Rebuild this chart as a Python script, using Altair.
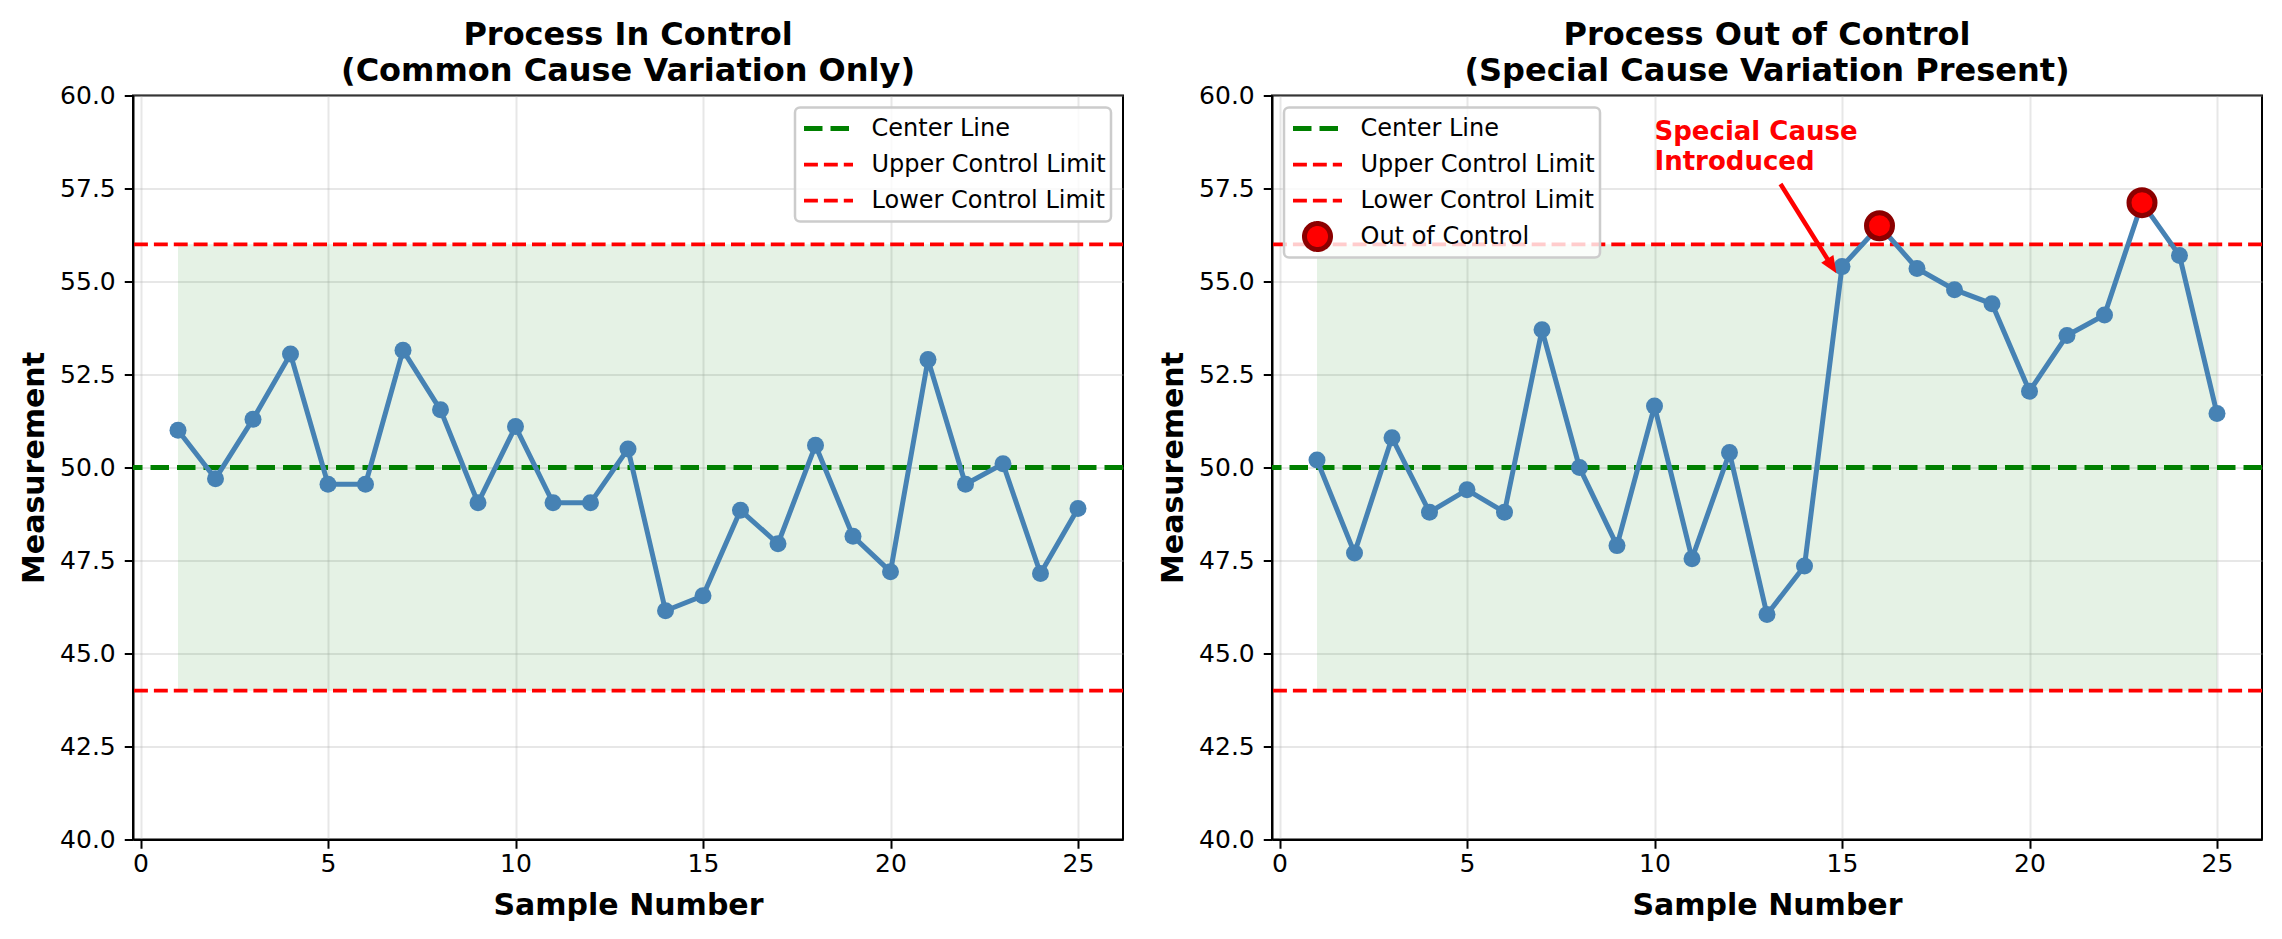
import altair as alt
import pandas as pd

FONT = "DejaVu Sans"

# ---------------- data ----------------
samples = list(range(1, 26))
in_control_values = [51.0, 49.7, 51.3, 53.05, 49.55, 49.55, 53.15, 51.55, 49.05, 51.1,
                     49.05, 49.05, 50.5, 46.15, 46.55, 48.85, 47.95, 50.6, 48.15, 47.2,
                     52.9, 49.55, 50.1, 47.15, 48.9]
out_control_values = [50.2, 47.7, 50.8, 48.8, 49.4, 48.8, 53.7, 50.0, 47.9, 51.65,
                      47.55, 50.4, 46.05, 47.35, 55.4, 56.5, 55.35, 54.78, 54.4, 52.05,
                      53.55, 54.1, 57.12, 55.7, 51.45]

limit_names = ["Center Line", "Upper Control Limit", "Lower Control Limit"]
limit_values = [50.0, 56.0, 44.0]
ooc_name = "Out of Control"

x_ticks = [0, 5, 10, 15, 20, 25]
y_ticks = [40.0, 42.5, 45.0, 47.5, 50.0, 52.5, 55.0, 57.5, 60.0]
shade_x = [1, 25]

titles = [["Process In Control", "(Common Cause Variation Only)"],
          ["Process Out of Control", "(Special Cause Variation Present)"]]

note_text = ["Special Cause\nIntroduced"]
note_x = [10.0]
note_y = [58.0]
arrow_tail = [13.36, 57.62]
arrow_tip = [14.85, 55.22]

# ---------------- styles ----------------
GREEN = "#008000"
RED = "#ff0000"
DARKRED = "#8b0000"
BLUE = "#4682b4"
DASH_CL = [18.5, 8]
DASH_LIM = [13.9, 6]

xscale = alt.Scale(domain=[-0.2, 26.2], nice=False, zero=False)
yscale = alt.Scale(domain=[40, 60], nice=False, zero=False)
xaxis = alt.Axis(values=x_ticks, format="d", title="Sample Number")
yaxis = alt.Axis(values=y_ticks, format=".1f", title="Measurement")

IS_OOC = "(datum && datum.value === 'Out of Control')"
IS_CL = "(datum && datum.value === 'Center Line')"


def make_legend(orient):
    return alt.Legend(
        title=None, orient=orient, offset=12, labelLimit=600, clipHeight=32,
        symbolType=alt.ExprRef(f"{IS_OOC} ? 'circle' : 'stroke'"),
        symbolSize=alt.ExprRef(f"{IS_OOC} ? 676 : 2401"),
        symbolStrokeWidth=alt.ExprRef(f"{IS_CL} ? 5 : ({IS_OOC} ? 5 : 3.75)"),
        symbolFillColor=alt.ExprRef(f"{IS_OOC} ? '#ff0000' : 'transparent'"),
        symbolOpacity=1,
    )


def panel(values, title, with_ooc, orient):
    df = pd.DataFrame({"sample": samples, "value": values})
    lim = pd.DataFrame({"name": limit_names, "y": limit_values})
    shade = pd.DataFrame({"x": [shade_x[0]], "x2": [shade_x[1]],
                          "y": [limit_values[2]], "y2": [limit_values[1]]})
    domain = limit_names + ([ooc_name] if with_ooc else [])
    crange = [GREEN, RED, RED, DARKRED][:len(domain)]
    drange = [DASH_CL, DASH_LIM, DASH_LIM, [1, 0]][:len(domain)]
    legend = make_legend(orient)
    color = alt.Color("name:N", scale=alt.Scale(domain=domain, range=crange), legend=legend)
    dash = alt.StrokeDash("name:N", scale=alt.Scale(domain=domain, range=drange), legend=legend)

    shade_layer = alt.Chart(shade).mark_rect(color=GREEN, opacity=0.1).encode(
        x=alt.X("x:Q", scale=xscale, axis=xaxis), x2="x2:Q",
        y=alt.Y("y:Q", scale=yscale, axis=yaxis), y2="y2:Q")

    cl_layer = alt.Chart(lim).transform_filter("datum.name === 'Center Line'").mark_rule(
        strokeWidth=5).encode(y=alt.Y("y:Q", scale=yscale, axis=yaxis), color=color, strokeDash=dash)
    lim_layer = alt.Chart(lim).transform_filter("datum.name !== 'Center Line'").mark_rule(
        strokeWidth=3.75).encode(y=alt.Y("y:Q", scale=yscale, axis=yaxis), color=color, strokeDash=dash)

    enc = dict(x=alt.X("sample:Q", scale=xscale, axis=xaxis),
               y=alt.Y("value:Q", scale=yscale, axis=yaxis))
    line_layer = alt.Chart(df).mark_line(color=BLUE, strokeWidth=5).encode(**enc)
    pt_layer = alt.Chart(df).mark_circle(color=BLUE, size=289, opacity=1).encode(**enc)

    layers = [shade_layer, cl_layer, lim_layer, line_layer, pt_layer]

    if with_ooc:
        ooc_layer = alt.Chart(df).transform_filter(
            f"datum.value > {limit_values[1]} || datum.value < {limit_values[2]}"
        ).mark_circle(fill=RED, stroke=DARKRED, strokeWidth=5, size=676, opacity=1).encode(**enc)

        note = pd.DataFrame({"x": note_x, "y": note_y, "label": note_text})
        note_layer = alt.Chart(note).mark_text(
            align="left", baseline="bottom", dy=-25, lineBreak="\n", lineHeight=30,
            font=FONT, fontSize=26, fontWeight="bold", color=RED
        ).encode(x=alt.X("x:Q", scale=xscale, axis=xaxis),
                 y=alt.Y("y:Q", scale=yscale, axis=yaxis), text="label:N")

        frac = 0.88
        shaft = pd.DataFrame({
            "x": [arrow_tail[0]], "y": [arrow_tail[1]],
            "x2": [arrow_tail[0] + frac * (arrow_tip[0] - arrow_tail[0])],
            "y2": [arrow_tail[1] + frac * (arrow_tip[1] - arrow_tail[1])],
        })
        shaft_layer = alt.Chart(shaft).mark_rule(color=RED, strokeWidth=4.5).encode(
            x=alt.X("x:Q", scale=xscale, axis=xaxis), x2="x2:Q",
            y=alt.Y("y:Q", scale=yscale, axis=yaxis), y2="y2:Q")
        head = pd.DataFrame({"x": [arrow_tip[0]], "y": [arrow_tip[1]]})
        head_layer = alt.Chart(head).mark_point(
            shape="M0,0L0.85,2L-0.85,2Z", filled=True, color=RED, opacity=1,
            size=289, angle=147.7, strokeWidth=0
        ).encode(x=alt.X("x:Q", scale=xscale, axis=xaxis),
                 y=alt.Y("y:Q", scale=yscale, axis=yaxis))
        layers += [ooc_layer, shaft_layer, head_layer, note_layer]

    return alt.layer(*layers).properties(
        width=990, height=744,
        title=alt.TitleParams(text=title, fontSize=32, fontWeight="bold", font=FONT,
                              color="black", anchor="middle", frame="group",
                              baseline="bottom", offset=-36.5, lineHeight=36),
    )


left = panel(in_control_values, titles[0], False, "top-right")
right = panel(out_control_values, titles[1], True, "top-left")

chart = alt.hconcat(left, right, spacing=30).resolve_scale(
    color="independent", strokeDash="independent"
).properties(
    padding={"left": 10, "top": 9.5, "right": 5, "bottom": 5}
).configure_axis(
    labelFont=FONT, titleFont=FONT, labelFontSize=25, titleFontSize=30,
    titleFontWeight="bold", labelColor="black", titleColor="black",
    domainColor="black", domainWidth=2, tickColor="black", tickWidth=2,
    tickSize=8.75, labelPadding=9, gridColor="#b0b0b0", gridOpacity=0.3, gridWidth=2,
).configure_axisX(titlePadding=14, labelPadding=3).configure_axisY(titlePadding=10).configure_view(
    stroke="black", strokeWidth=2
).configure_legend(
    labelFont=FONT, labelFontSize=24, labelColor="black", padding=5, rowPadding=4,
    fillColor="rgba(255,255,255,0.8)", strokeColor="#cccccc", strokeWidth=2.5,
    cornerRadius=5, labelOffset=31, symbolOffset=16.5, offset=12,
)

chart.save("out.html", embed_options={"renderer": "svg", "actions": False})
